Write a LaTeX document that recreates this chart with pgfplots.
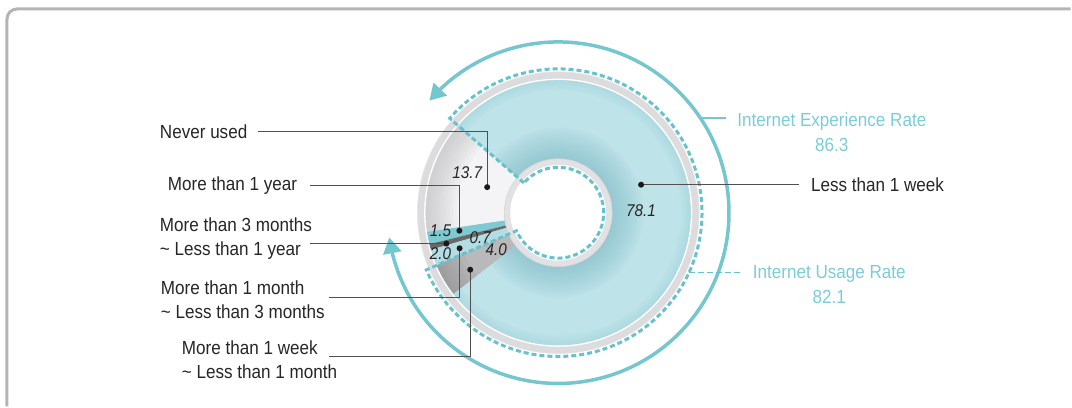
\documentclass[border=0pt]{standalone}
\usepackage{pgfplots}
\pgfplotsset{compat=1.18}
\usepackage{pgfplotstable}
\usepackage{fontspec}
\setmainfont{Liberation Sans}[FakeStretch=0.9]
\usetikzlibrary{arrows.meta,bending}

% ---- colours ----
\definecolor{frameGray}{HTML}{B4B4B8}
\definecolor{rimGray}{HTML}{DCDCDE}
\definecolor{holeRim}{HTML}{E2E2E4}
\definecolor{dashTeal}{HTML}{66C2CC}
\definecolor{arcTeal}{HTML}{74C7CF}
\definecolor{rateText}{HTML}{7ACDD6}
\definecolor{lblText}{HTML}{262626}
\definecolor{leader}{HTML}{505050}
\definecolor{blueBase}{HTML}{BEE3E9}
\definecolor{blueShade}{HTML}{7BBAC5}
\definecolor{neverBase}{HTML}{F4F4F6}
\definecolor{greyShade}{HTML}{B0B0B5}
\definecolor{yearTeal}{HTML}{7DCAD2}
\definecolor{monthsDark}{HTML}{69696B}
\definecolor{monthBlue}{HTML}{B3DDE3}
\definecolor{weekBase}{HTML}{B9B9BC}

% ---- data: share of respondents by last internet use (%) ----
\pgfplotstableread{
group     share
never     13.7
year      1.5
months    0.7
month     2.0
week      4.0
lessweek  78.1
}\usagetable

\pgfplotstableread{
rate        value
experience  86.3
usage       82.1
}\ratetable

\newcommand\getshare[2]{\pgfplotstablegetelem{#1}{share}\of\usagetable\global\let#2\pgfplotsretval}
\getshare{0}\vNever
\getshare{1}\vYear
\getshare{2}\vMonths
\getshare{3}\vMonth
\getshare{4}\vWeek
\getshare{5}\vLessWeek
\pgfplotstablegetelem{0}{value}\of\ratetable \global\let\vExp\pgfplotsretval
\pgfplotstablegetelem{1}{value}\of\ratetable \global\let\vUse\pgfplotsretval

% slice boundaries (degrees, counter-clockwise from the start angle)
\pgfmathsetmacro\aA{139}
\pgfmathsetmacro\aB{\aA+3.6*\vNever}
\pgfmathsetmacro\aC{\aB+3.6*\vYear}
\pgfmathsetmacro\aD{\aC+3.6*\vMonths}
\pgfmathsetmacro\aE{\aD+3.6*\vMonth}
\pgfmathsetmacro\aF{\aE+3.6*\vWeek}
\pgfmathsetmacro\aG{\aF+3.6*\vLessWeek}
% rate arcs run clockwise from the start angle
\pgfmathsetmacro\expEnd{\aA-3.6*\vExp}
\pgfmathsetmacro\useEnd{\aA-3.6*\vUse}
% leader anchor angles inside each slice
\pgfmathsetmacro\mNever{\aA+0.43*(\aB-\aA)}
\pgfmathsetmacro\mYear{\aB+0.37*(\aC-\aB)}
\pgfmathsetmacro\mMonths{\aC+0.69*(\aD-\aC)}
\pgfmathsetmacro\mMonth{\aD+0.50*(\aE-\aD)}
\pgfmathsetmacro\mWeek{\aE+0.66*(\aF-\aE)}
\pgfmathsetmacro\mLess{\aF+0.572*(\aG-\aF)}

\def\cx{559}
\def\cy{194}
\newcommand\wedgepath[2]{(axis cs:\cx,\cy) -- (axis cs:{\cx+133*cos(#1)},{\cy+133*sin(#1)}) arc[start angle=#1,end angle=#2,radius=133] -- cycle}

\tikzset{
  lbl/.style={font=\fontsize{19}{24}\selectfont, text=lblText, inner sep=0pt, anchor=west, align=left},
  val/.style={font=\fontsize{17}{20}\selectfont\itshape, text=lblText, inner sep=0pt},
  rate/.style={font=\fontsize{19}{25}\selectfont, text=rateText, inner sep=0pt, align=center},
  lead/.style={leader, line width=1.1pt},
  dot/.style={fill=black!90},
}

\begin{document}
\begin{tikzpicture}
\begin{axis}[
  x=1pt, y=1pt,
  xmin=0, xmax=1072, ymin=0, ymax=407,
  enlargelimits=false,
  hide axis, clip=false,
]
\path (axis cs:0,0) rectangle (axis cs:1072,407);

% panel frame
\draw[frameGray, line width=3pt, rounded corners=10pt]
  (axis cs:7,0) -- (axis cs:7,398) -- (axis cs:1072,398);

% outer rim
\fill[rimGray] (axis cs:\cx,\cy) circle[radius=141];

% never used
\begin{scope}
  \clip \wedgepath{\aA}{\aB};
  \fill[neverBase] (axis cs:\cx,\cy) circle[radius=133];
  \pgfplotsinvokeforeach{1,...,9}{
    \fill[greyShade, opacity=0.07, even odd rule]
      (axis cs:\cx,\cy) circle[radius=133] (axis cs:\cx,\cy) circle[radius={133-3.5*#1}];
  }
\end{scope}
% more than 1 year / 3 months - 1 year / 1 - 3 months
\fill[yearTeal] \wedgepath{\aB}{\aC};
\fill[monthsDark] \wedgepath{\aC}{\aD};
\fill[monthBlue] \wedgepath{\aD}{\aE};
% 1 week - 1 month
\begin{scope}
  \clip \wedgepath{\aE}{\aF};
  \fill[weekBase] (axis cs:\cx,\cy) circle[radius=133];
  \pgfplotsinvokeforeach{1,...,6}{
    \fill[black, opacity=0.025, even odd rule]
      (axis cs:\cx,\cy) circle[radius=133] (axis cs:\cx,\cy) circle[radius={133-5*#1}];
  }
\end{scope}
% less than 1 week
\begin{scope}
  \clip \wedgepath{\aF}{\aG};
  \fill[blueBase] (axis cs:\cx,\cy) circle[radius=133];
  \pgfplotsinvokeforeach{1,...,12}{
    \fill[blueShade, opacity=0.06] (axis cs:\cx,\cy) circle[radius={54+2.6*#1}];
  }
  \pgfplotsinvokeforeach{1,...,4}{
    \fill[blueShade, opacity=0.05, even odd rule]
      (axis cs:\cx,\cy) circle[radius=133] (axis cs:\cx,\cy) circle[radius={133-2.5*#1}];
  }
\end{scope}
\draw[white, line width=1.3pt] (axis cs:\cx,\cy) circle[radius=133.6];
\draw[black!10, line width=0.6pt] (axis cs:\cx,\cy) circle[radius=141];

% inner hole
\fill[holeRim] (axis cs:\cx,\cy) circle[radius=54];
\draw[black!16, line width=0.6pt] (axis cs:\cx,\cy) circle[radius=54];
\fill[white] (axis cs:\cx,\cy) circle[radius=48];

% internet usage outline (dashed)
\draw[dashTeal, line width=3pt, dash pattern=on 5pt off 3pt]
  (axis cs:{\cx+45.5*cos(\aA)},{\cy+45.5*sin(\aA)})
  -- (axis cs:{\cx+144*cos(\aA)},{\cy+144*sin(\aA)})
  arc[start angle=\aA, end angle=\useEnd, radius=144]
  -- (axis cs:{\cx+45.5*cos(\useEnd)},{\cy+45.5*sin(\useEnd)})
  arc[start angle=\useEnd, end angle=\aA, radius=45.5] -- cycle;

% internet experience arc
\draw[arcTeal, line width=3.5pt,
      {Triangle[length=16pt,width=18pt]}-{Triangle[length=16pt,width=18pt]}]
  (axis cs:{\cx+171*cos(\aA)},{\cy+171*sin(\aA)})
  arc[start angle=\aA, end angle=\expEnd, radius=171];

\draw[arcTeal, line width=1.5pt] (axis cs:701,289) -- (axis cs:727,289);
\draw[dashTeal, line width=1.3pt, dash pattern=on 6pt off 3pt] (axis cs:690,134) -- (axis cs:742,134);

\node[rate] at (axis cs:833,274.5) {Internet Experience Rate\\86.3};
\node[rate] at (axis cs:830.5,122) {Internet Usage Rate\\82.1};

% leader anchors
\coordinate (dNever) at (axis cs:{\cx+75.6*cos(\mNever)},{\cy+75.6*sin(\mNever)});
\coordinate (dYear) at (axis cs:{\cx+100.6*cos(\mYear)},{\cy+100.6*sin(\mYear)});
\coordinate (dMonths) at (axis cs:{\cx+116.2*cos(\mMonths)},{\cy+116.2*sin(\mMonths)});
\coordinate (dMonth) at (axis cs:{\cx+105*cos(\mMonth)},{\cy+105*sin(\mMonth)});
\coordinate (dWeek) at (axis cs:{\cx+105*cos(\mWeek)},{\cy+105*sin(\mWeek)});
\coordinate (dLess) at (axis cs:{\cx+87.6*cos(\mLess)},{\cy+87.6*sin(\mLess)});
\coordinate (xMonths) at (axis cs:310,0);
\coordinate (xLess) at (axis cs:800,0);

\draw[lead] (dNever) |- (axis cs:258,275);
\draw[lead] (dYear) |- (axis cs:310,221);
\draw[lead] (dMonths) -- (dMonths -| xMonths);
\draw[lead] (dMonth) |- (axis cs:329,109);
\draw[lead] (dWeek) |- (axis cs:329,50);
\draw[lead] (dLess) -- (dLess -| xLess);

\fill[dot] (dNever) circle[radius=3pt];
\fill[dot] (dYear) circle[radius=3pt];
\fill[dot] (dMonths) circle[radius=3pt];
\fill[dot] (dMonth) circle[radius=3pt];
\fill[dot] (dWeek) circle[radius=3pt];
\fill[dot] (dLess) circle[radius=3pt];

% value labels
\node[val] at (axis cs:468,234) {13.7};
\node[val] at (axis cs:642,196) {78.1};
\node[val] at (axis cs:441,176) {1.5};
\node[val] at (axis cs:481,169) {0.7};
\node[val] at (axis cs:441,153) {2.0};
\node[val] at (axis cs:497,157) {4.0};

% category labels
\node[lbl] at (axis cs:160,275) {Never used};
\node[lbl] at (axis cs:168,221) {More than 1 year};
\node[lbl] at (axis cs:160,168) {More than 3 months\\\textasciitilde\ Less than 1 year};
\node[lbl] at (axis cs:161,107) {More than 1 month\\\textasciitilde\ Less than 3 months};
\node[lbl] at (axis cs:182,47) {More than 1 week\\\textasciitilde\ Less than 1 month};
\node[lbl] at (axis cs:812,222) {Less than 1 week};
\end{axis}
\end{tikzpicture}
\end{document}
